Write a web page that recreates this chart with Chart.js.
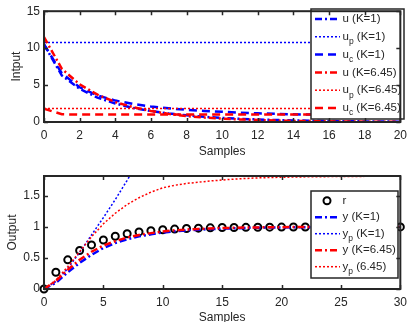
<!DOCTYPE html>
<html>
<head>
<meta charset="utf-8">
<script src="https://cdn.jsdelivr.net/npm/chart.js@4.4.0/dist/chart.umd.min.js"></script>
<style>
  html, body { margin: 0; padding: 0; background: #fff; }
  #wrap { position: relative; width: 413px; height: 322px; overflow: hidden; }
  canvas { position: absolute; left: 0; }
  #top { top: 0; }
  #bottom { top: 160px; }
</style>
</head>
<body>
<div id="wrap">
  <canvas id="top" width="413" height="160"></canvas>
  <canvas id="bottom" width="413" height="162"></canvas>
</div>
<script>
// ---- top plot (inputs) ----
const samplesTop = [0, 1, 2, 3, 4, 5, 6, 7, 8, 9, 10, 11, 12, 13, 14, 15, 16, 17, 18, 19, 20];
const uK1    = [10.5, 6.3, 4.5, 3.3, 2.5, 1.9, 1.5, 1.15, 0.9, 0.7, 0.55, 0.43, 0.34, 0.27, 0.21, 0.17, 0.13, 0.1, 0.08, 0.06, 0.05];
const upK1   = [10.75, 10.75, 10.75, 10.75, 10.75, 10.75, 10.75, 10.75, 10.75, 10.75, 10.75, 10.75, 10.75, 10.75, 10.75, 10.75, 10.75, 10.75, 10.75, 10.75, 10.75];
const ucK1   = [10.5, 6.6, 4.7, 3.6, 2.9, 2.45, 2.1, 1.85, 1.65, 1.5, 1.38, 1.27, 1.18, 1.1, 1.04, 1.0, 0.97, 0.95, 0.93, 0.92, 0.91];
const uK645  = [11.5, 7.2, 5.1, 3.7, 2.7, 2.0, 1.5, 1.1, 0.8, 0.6, 0.45, 0.35, 0.27, 0.2, 0.15, 0.12, 0.09, 0.07, 0.05, 0.04, 0.03];
const upK645 = [1.82, 1.82, 1.82, 1.82, 1.82, 1.82, 1.82, 1.82, 1.82, 1.82, 1.82, 1.82, 1.82, 1.82, 1.82, 1.82, 1.82, 1.82, 1.82, 1.82, 1.82];
const ucK645 = [1.8, 1.05, 1.0, 1.0, 1.0, 1.0, 1.0, 1.0, 1.0, 1.0, 1.0, 1.0, 1.0, 1.0, 1.0, 1.0, 1.0, 1.0, 1.0, 1.0, 1.0];

// ---- bottom plot (outputs) ----
const samplesBottom = [0, 1, 2, 3, 4, 5, 6, 7, 8, 9, 10, 11, 12, 13, 14, 15, 16, 17, 18, 19, 20, 21, 22, 23, 24, 25, 26, 27, 28, 29, 30];
const ref   = [0, 0.27, 0.47, 0.62, 0.71, 0.79, 0.85, 0.89, 0.92, 0.94, 0.955, 0.965, 0.975, 0.98, 0.985, 0.99, 0.99, 0.993, 0.995, 0.996, 0.997, 0.998, 0.998, 0.999, 0.999, 0.999, 1, 1, 1, 1, 1];
const yK1   = [0, 0.1, 0.27, 0.42, 0.55, 0.66, 0.74, 0.8, 0.85, 0.88, 0.91, 0.93, 0.945, 0.955, 0.965, 0.972, 0.978, 0.983, 0.987, 0.99, 0.992, 0.994, 0.995, 0.996, 0.997, 0.998, 0.998, 0.999, 0.999, 1, 1];
const ypK1  = [0, 0.12, 0.33, 0.59, 0.87, 1.15, 1.44, 1.75, 2.07];
const yK645 = [0, 0.13, 0.31, 0.47, 0.6, 0.7, 0.77, 0.83, 0.87, 0.9, 0.925, 0.945, 0.958, 0.968, 0.976, 0.982, 0.986, 0.99, 0.992, 0.994, 0.996, 0.997, 0.998, 0.998, 0.999, 0.999, 1, 1, 1, 1, 1];
const ypK645 = [0, 0.14, 0.36, 0.6, 0.84, 1.05, 1.22, 1.36, 1.47, 1.56, 1.63, 1.67, 1.7, 1.72, 1.74, 1.755, 1.77, 1.78, 1.79, 1.795, 1.8, 1.803, 1.806, 1.808, 1.81, 1.812, 1.813, 1.814, 1.815, 1.816, 1.817];

const BLUE = 'rgb(0,0,255)';
const RED = 'rgb(255,0,0)';
const INK = '#262626';
const FONT = '"Liberation Sans", Arial, sans-serif';

const DASHDOT = [7, 3, 2, 3];
const DOTTED = [2, 2];
const DASHED = [8, 5];

function pts(xs, ys) {
  return ys.map((v, i) => ({ x: xs[i], y: v }));
}

function lineSet(label, xs, ys, color, dash, width) {
  return {
    label: label,
    data: pts(xs, ys),
    borderColor: color,
    borderDash: dash,
    borderWidth: width,
    pointRadius: 0,
    fill: false,
    tension: 0
  };
}

// label like "u_p (K=1)" -> u with subscript p
function drawLabel(ctx, text, x, y) {
  const m = text.match(/^(\w)_(\w)(.*)$/);
  ctx.fillStyle = INK;
  ctx.textBaseline = 'middle';
  ctx.textAlign = 'left';
  ctx.font = '11.5px ' + FONT;
  if (!m) {
    ctx.fillText(text, x, y);
    return;
  }
  ctx.fillText(m[1], x, y);
  let w = ctx.measureText(m[1]).width;
  ctx.font = '8.5px ' + FONT;
  ctx.fillText(m[2], x + w, y + 5);
  w += ctx.measureText(m[2]).width;
  ctx.font = '11.5px ' + FONT;
  ctx.fillText(m[3], x + w, y);
}

// matlab-like legend box inside the axes
const boxLegend = {
  id: 'boxLegend',
  afterDatasetsDraw(chart, args, opts) {
    const ctx = chart.ctx;
    ctx.save();
    ctx.fillStyle = '#fff';
    ctx.fillRect(opts.x, opts.y, opts.w, opts.h);
    ctx.strokeStyle = INK;
    ctx.lineWidth = 1.5;
    ctx.strokeRect(opts.x, opts.y, opts.w, opts.h);
    chart.data.datasets.forEach((ds, i) => {
      const cy = opts.y + opts.first + i * opts.step;
      if (ds.showLine === false) {
        ctx.beginPath();
        ctx.arc(opts.x + 16, cy, ds.pointRadius, 0, Math.PI * 2);
        ctx.strokeStyle = ds.pointBorderColor;
        ctx.lineWidth = ds.pointBorderWidth;
        ctx.setLineDash([]);
        ctx.stroke();
      } else {
        ctx.beginPath();
        ctx.moveTo(opts.x + 4, cy);
        ctx.lineTo(opts.x + 29, cy);
        ctx.strokeStyle = ds.borderColor;
        ctx.lineWidth = ds.borderWidth;
        ctx.setLineDash(ds.borderDash || []);
        ctx.stroke();
      }
      ctx.setLineDash([]);
      drawLabel(ctx, ds.label, opts.x + 31.5, cy);
    });
    ctx.restore();
  }
};

// box around the axes with inward ticks on all sides
const boxFrame = {
  id: 'boxFrame',
  afterDraw(chart) {
    const ctx = chart.ctx;
    const a = chart.chartArea;
    const x = chart.scales.x;
    const y = chart.scales.y;
    ctx.save();
    ctx.strokeStyle = INK;
    ctx.lineWidth = 1.5;
    ctx.beginPath();
    x.ticks.forEach(t => {
      const px = Math.round(x.getPixelForValue(t.value)) + 0.5;
      ctx.moveTo(px, a.bottom); ctx.lineTo(px, a.bottom - 4);
      ctx.moveTo(px, a.top); ctx.lineTo(px, a.top + 4);
    });
    y.ticks.forEach(t => {
      const py = Math.round(y.getPixelForValue(t.value)) + 0.5;
      ctx.moveTo(a.left, py); ctx.lineTo(a.left + 4, py);
      ctx.moveTo(a.right, py); ctx.lineTo(a.right - 4, py);
    });
    ctx.stroke();
    ctx.lineWidth = 2;
    ctx.strokeRect(a.left, a.top, a.right - a.left, a.bottom - a.top);
    ctx.restore();
  }
};

function axisX(min, max, step, titlePad, h) {
  return {
    type: 'linear', min: min, max: max,
    grid: { display: false, drawTicks: false },
    border: { display: false },
    ticks: { stepSize: step, padding: 6, color: INK, font: { family: FONT, size: 12 } },
    title: { display: true, text: 'Samples', color: INK, padding: { top: 0, bottom: titlePad },
      font: { family: FONT, size: 12, lineHeight: 1 } },
    afterFit: s => { s.height = h; }
  };
}

function axisY(min, max, step, title, titlePad) {
  return {
    min: min, max: max,
    grid: { display: false, drawTicks: false },
    border: { display: false },
    ticks: { stepSize: step, padding: 4, color: INK, font: { family: FONT, size: 12 },
      callback: v => String(v) },
    afterBuildTicks: s => {
      s.ticks = s.ticks.filter(t => Math.abs(t.value / step - Math.round(t.value / step)) < 1e-6);
    },
    title: { display: true, text: title, color: INK, padding: { top: titlePad, bottom: 0 },
      font: { family: FONT, size: 12, lineHeight: 1 } },
    afterFit: s => { s.width = 44; }
  };
}

// draw later datasets on top (like matlab)
function stack(sets) {
  sets.forEach((s, i) => { s.order = sets.length - i; });
  return sets;
}

new Chart(document.getElementById('top'), {
  type: 'line',
  data: {
    datasets: stack([
      lineSet('u (K=1)', samplesTop, uK1, BLUE, DASHDOT, 2.5),
      lineSet('u_p (K=1)', samplesTop, upK1, BLUE, DOTTED, 1.5),
      lineSet('u_c (K=1)', samplesTop, ucK1, BLUE, DASHED, 2.5),
      lineSet('u (K=6.45)', samplesTop, uK645, RED, DASHDOT, 2.5),
      lineSet('u_p (K=6.45)', samplesTop, upK645, RED, DOTTED, 1.5),
      lineSet('u_c (K=6.45)', samplesTop, ucK645, RED, DASHED, 2.5)
    ])
  },
  options: {
    responsive: false,
    animation: false,
    devicePixelRatio: 1,
    layout: { padding: { top: 9, right: 6, left: 0, bottom: 0 } },
    scales: {
      x: axisX(0, 20, 2, 2, 38),
      y: axisY(0, 15, 5, 'Intput', 11)
    },
    plugins: {
      legend: { display: false },
      tooltip: { enabled: false },
      boxLegend: { x: 311, y: 9, w: 93, h: 110, first: 10, step: 17.8 }
    }
  },
  plugins: [boxLegend, boxFrame]
});

new Chart(document.getElementById('bottom'), {
  type: 'line',
  data: {
    datasets: stack([
      {
        label: 'r',
        data: pts(samplesBottom, ref),
        showLine: false,
        pointStyle: 'circle',
        pointRadius: 3.5,
        pointBorderWidth: 2,
        pointBorderColor: '#000',
        pointBackgroundColor: 'rgba(0,0,0,0)',
        clip: false
      },
      lineSet('y (K=1)', samplesBottom, yK1, BLUE, DASHDOT, 2.5),
      lineSet('y_p (K=1)', samplesBottom, ypK1, BLUE, DOTTED, 1.5),
      lineSet('y (K=6.45)', samplesBottom, yK645, RED, DASHDOT, 2.5),
      lineSet('y_p (6.45)', samplesBottom, ypK645, RED, DOTTED, 1.5)
    ])
  },
  options: {
    responsive: false,
    animation: false,
    devicePixelRatio: 1,
    layout: { padding: { top: 16, right: 6, left: 0, bottom: 0 } },
    scales: {
      x: axisX(0, 30, 5, -2, 33),
      y: axisY(0, 1.82, 0.5, 'Output', 7)
    },
    plugins: {
      legend: { display: false },
      tooltip: { enabled: false },
      boxLegend: { x: 311, y: 31, w: 87, h: 87, first: 9.7, step: 16.5 }
    }
  },
  plugins: [boxLegend, boxFrame]
});
</script>
</body>
</html>
